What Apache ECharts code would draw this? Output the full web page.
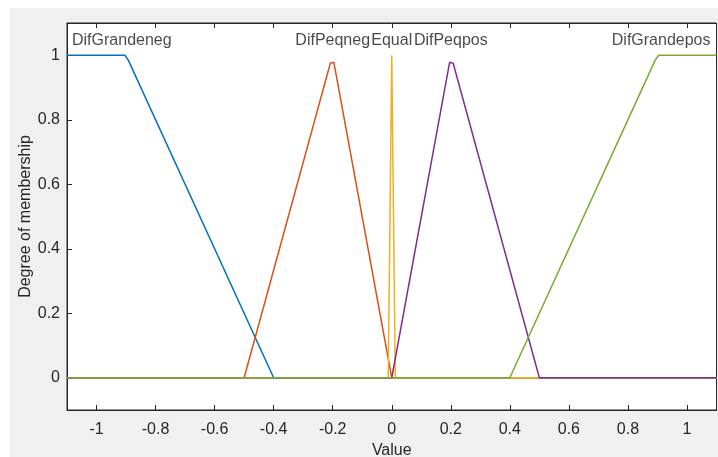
<!DOCTYPE html>
<html>
<head>
<meta charset="utf-8">
<title>Membership functions</title>
<script src="https://cdn.jsdelivr.net/npm/echarts@6/dist/echarts.min.js"></script>
<style>
  html, body { margin: 0; padding: 0; background: #ffffff; }
  #frame { position: absolute; left: 10px; top: 8px; right: 0; bottom: 0; background: #f0f0f0; }
  #chart { position: absolute; left: 0; top: 0; width: 718px; height: 457px; }
</style>
</head>
<body>
<div id="frame"></div>
<div id="chart"></div>
<script>
// Membership functions of the input variable, as [value, degree] break points
const difGrandeneg = [[-1.1, 1], [-0.904, 1], [-0.892, 0.984], [-0.4, 0], [1.1, 0]];
const difPeqneg    = [[-1.1, 0], [-0.5, 0], [-0.208, 0.975], [-0.196, 0.978], [0, 0], [1.1, 0]];
const equal        = [[-1.1, 0], [-0.012, 0], [0, 1], [0.012, 0], [1.1, 0]];
const difPeqpos    = [[-1.1, 0], [0, 0], [0.196, 0.978], [0.208, 0.975], [0.5, 0], [1.1, 0]];
const difGrandepos = [[-1.1, 0], [0.4, 0], [0.892, 0.984], [0.904, 1], [1.1, 1]];

// Names of the functions and where each name is written
const mfNames  = ['DifGrandeneg', 'DifPeqneg', 'Equal', 'DifPeqpos', 'DifGrandepos'];
const mfLabelX = [-1.1, -0.2, 0, 0.2, 1.1];
const labelLevel = 1.045;

// Axis ticks
const xTicks = [-1, -0.8, -0.6, -0.4, -0.2, 0, 0.2, 0.4, 0.6, 0.8, 1];
const yTicks = [0, 0.2, 0.4, 0.6, 0.8, 1];

const colors = ['#0072BD', '#D95319', '#EDB120', '#7E2F8E', '#77AC30'];
const curves = [difGrandeneg, difPeqneg, equal, difPeqpos, difGrandepos];
const textColor = '#262626';
const font = 'Liberation Sans, Arial, Helvetica, sans-serif';
const fontSize = 16;

const lineSeries = curves.map((d, i) => ({
  name: mfNames[i],
  type: 'line',
  data: d,
  symbol: 'none',
  lineStyle: { color: colors[i], width: 1.5 },
  itemStyle: { color: colors[i] },
  animation: false,
  silent: true
}));

const labelData = mfNames.map((n, i) => {
  const item = { value: [mfLabelX[i], labelLevel], name: n };
  if (i === 0) item.label = { align: 'left', offset: [5, 0] };
  else if (i === mfNames.length - 1) item.label = { align: 'right', offset: [-6, 0] };
  return item;
});

const chart = echarts.init(document.getElementById('chart'), null, { renderer: 'canvas' });
chart.setOption({
  backgroundColor: 'transparent',
  animation: false,
  textStyle: { fontFamily: font },
  grid: {
    left: 67, top: 23, right: 1.5, bottom: 47,
    containLabel: false, outerBoundsMode: 'none',
    show: true, backgroundColor: '#ffffff',
    borderColor: textColor, borderWidth: 1
  },
  xAxis: [{
    type: 'value', min: -1.1, max: 1.1, position: 'bottom',
    name: 'Value', nameLocation: 'middle', nameGap: 33, nameMoveOverlap: false,
    nameTextStyle: { color: textColor, fontSize: fontSize, fontFamily: font },
    axisLine: { show: true, onZero: false, lineStyle: { color: textColor, width: 1 } },
    axisTick: { show: true, inside: true, length: 5, customValues: xTicks, lineStyle: { color: textColor } },
    axisLabel: {
      show: true, customValues: xTicks, margin: 12, color: textColor, fontSize: fontSize, fontFamily: font,
      formatter: v => String(Math.round(v * 10) / 10)
    },
    splitLine: { show: false }
  }, {
    type: 'value', min: -1.1, max: 1.1, position: 'top',
    axisLine: { show: true, onZero: false, lineStyle: { color: textColor, width: 1 } },
    axisTick: { show: true, inside: true, length: 5, customValues: xTicks, lineStyle: { color: textColor } },
    axisLabel: { show: false },
    splitLine: { show: false }
  }],
  yAxis: {
    type: 'value', min: -0.1, max: 1.1,
    name: 'Degree of membership', nameLocation: 'middle', nameGap: 33, nameRotate: 90,
    nameMoveOverlap: false,
    nameTextStyle: { color: textColor, fontSize: fontSize, fontFamily: font },
    axisLine: { show: true, onZero: false, lineStyle: { color: textColor, width: 1 } },
    axisTick: { show: true, inside: true, length: 5, customValues: yTicks, lineStyle: { color: textColor } },
    axisLabel: {
      show: true, customValues: yTicks, margin: 7, color: textColor, fontSize: fontSize, fontFamily: font,
      formatter: v => String(Math.round(v * 10) / 10)
    },
    splitLine: { show: false }
  },
  series: lineSeries.concat([{
    type: 'scatter',
    data: labelData,
    symbolSize: 0,
    silent: true,
    z: 5,
    label: {
      show: true, position: 'inside', align: 'center', verticalAlign: 'middle',
      formatter: p => p.name, color: '#1a1a1a', fontSize: fontSize, fontFamily: font
    }
  }])
});
</script>
</body>
</html>
